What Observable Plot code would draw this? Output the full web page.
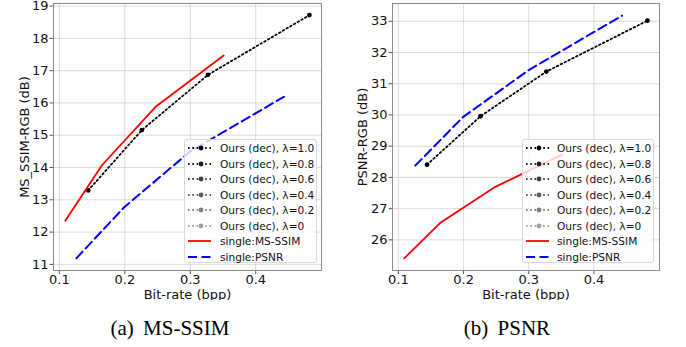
<!DOCTYPE html>
<html>
<head>
<meta charset="utf-8">
<script src="https://cdn.jsdelivr.net/npm/d3@7"></script>
<script src="https://cdn.jsdelivr.net/npm/@observablehq/plot@0.6"></script>
<style>
  body { margin: 0; background: #fff; }
  #wrap { position: relative; width: 686px; height: 347px; font-family: "DejaVu Sans", sans-serif; overflow: hidden; }
  .panel { position: absolute; top: 0; }
  .legend { position: absolute; background: rgba(255,255,255,0.8); border: 1px solid #d9d9d9; border-radius: 3px; box-sizing: border-box; font-size: 10.6px; color: #111; }
  .row { display: flex; align-items: center; height: 15.5px; white-space: nowrap; }
  .row svg { flex: none; }
  .caption { position: absolute; font-family: "Liberation Serif", "Times New Roman", serif; font-size: 21px; line-height: 21px; text-align: center; word-spacing: 4px; color: #000; }
</style>
</head>
<body>
<div id="wrap"></div>
<script>
// ---------- data ----------
const xTicks = [0.1, 0.2, 0.3, 0.4];
const msssimTicks = [11, 12, 13, 14, 15, 16, 17, 18, 19];
const psnrTicks = [26, 27, 28, 29, 30, 31, 32, 33];

const oursRate   = [0.144, 0.226, 0.327, 0.482];
const oursMsssim = [13.29, 15.16, 16.87, 18.72];
const oursPsnr   = [28.41, 29.96, 31.39, 33.02];

const singleMsssimRate   = [0.109, 0.165, 0.247, 0.351];
const singleMsssimMsssim = [12.35, 14.07, 15.88, 17.47];
const singleMsssimPsnr   = [25.41, 26.56, 27.68, 28.73];

const singlePsnrRate   = [0.126, 0.199, 0.300, 0.443];
const singlePsnrMsssim = [11.19, 12.77, 14.50, 16.19];
const singlePsnrPsnr   = [28.38, 29.93, 31.44, 33.18];

const lambdas = ["1.0", "0.8", "0.6", "0.4", "0.2", "0"];
const singleLabels = ["single:MS-SSIM", "single:PSNR"];
const captions = ["(a) MS-SSIM", "(b) PSNR"];
const yLabels = ["MS_SSIM-RGB (dB)", "PSNR-RGB (dB)"];
const xLabel = "Bit-rate (bpp)";

// ---------- styles ----------
const lambdaColors = ["#000000", "#1e1e1e", "#3e3e3e", "#5e5e5e", "#7e7e7e", "#a0a0a0"];
const RED = "#ff0000", BLUE = "#0000ff";
const DOTS = "1.6,2.7", DASH = "9,4.5";

const toPts = (xs, ys) => xs.map((x, i) => ({x, y: ys[i]}));

function panel({yDomain, yTicks, ours, red, blue, ml, mr, yLabel, yLabelOffset}) {
  return Plot.plot({
    width: 343, height: 300,
    marginLeft: ml, marginRight: mr, marginTop: 3, marginBottom: 30,
    x: {domain: [0.091, 0.5005]},
    y: {domain: yDomain},
    style: {fontFamily: "'DejaVu Sans', sans-serif", fontSize: "13px", color: "#111", background: "transparent"},
    marks: [
      Plot.gridX(xTicks, {stroke: "#b0b0b0", strokeOpacity: 0.45, strokeWidth: 1}),
      Plot.gridY(yTicks, {stroke: "#b0b0b0", strokeOpacity: 0.45, strokeWidth: 1}),
      Plot.axisX(xTicks, {tickFormat: d3.format(".1f"), tickSize: 4, tickPadding: 0.5, stroke: "#555",
        label: xLabel, labelAnchor: "center", labelOffset: 28, labelArrow: "none"}),
      Plot.axisY(yTicks, {tickFormat: d3.format("d"), tickSize: 3.5, tickPadding: 1.5, stroke: "#555",
        label: yLabel, labelAnchor: "center", labelOffset: yLabelOffset, labelArrow: "none"}),
      Plot.line(ours, {x: "x", y: "y", stroke: lambdaColors[0], strokeWidth: 1.8, strokeDasharray: DOTS}),
      Plot.dot(ours, {x: "x", y: "y", r: 2.4, fill: lambdaColors[0], stroke: "none"}),
      Plot.line(red, {x: "x", y: "y", stroke: RED, strokeWidth: 1.8}),
      Plot.line(blue, {x: "x", y: "y", stroke: BLUE, strokeWidth: 2, strokeDasharray: DASH}),
      Plot.frame({stroke: "#8a8a8a", strokeWidth: 1})
    ]
  });
}

const wrap = document.getElementById("wrap");

const left = panel({
  yDomain: [10.81, 19.08], yTicks: msssimTicks,
  ours: toPts(oursRate, oursMsssim),
  red: toPts(singleMsssimRate, singleMsssimMsssim),
  blue: toPts(singlePsnrRate, singlePsnrMsssim),
  ml: 53, mr: 22, yLabel: yLabels[0], yLabelOffset: 34
});
left.classList.add("panel"); left.style.left = "0px";
wrap.appendChild(left);

const right = panel({
  yDomain: [25.02, 33.57], yTicks: psnrTicks,
  ours: toPts(oursRate, oursPsnr),
  red: toPts(singleMsssimRate, singleMsssimPsnr),
  blue: toPts(singlePsnrRate, singlePsnrPsnr),
  ml: 49, mr: 27, yLabel: yLabels[1], yLabelOffset: 35
});
right.classList.add("panel"); right.style.left = "343px";
wrap.appendChild(right);

// ---------- legends ----------
function handle(kind, color) {
  const ns = "http://www.w3.org/2000/svg";
  const s = document.createElementNS(ns, "svg");
  s.setAttribute("width", 23); s.setAttribute("height", 10);
  const l = document.createElementNS(ns, "line");
  l.setAttribute("x1", 0); l.setAttribute("x2", 23); l.setAttribute("y1", 5); l.setAttribute("y2", 5);
  l.setAttribute("stroke", color); l.setAttribute("stroke-width", kind === "dash" ? 2 : 1.8);
  if (kind === "ours") l.setAttribute("stroke-dasharray", DOTS);
  if (kind === "dash") l.setAttribute("stroke-dasharray", DASH);
  s.appendChild(l);
  if (kind === "ours") {
    const c = document.createElementNS(ns, "circle");
    c.setAttribute("cx", 13); c.setAttribute("cy", 5); c.setAttribute("r", 2.4); c.setAttribute("fill", color);
    s.appendChild(c);
  }
  return s;
}
function legend(leftPx, widthPx, handleGap) {
  const d = document.createElement("div");
  d.className = "legend";
  Object.assign(d.style, {left: leftPx + "px", top: "139px", width: widthPx + "px", height: "124px", paddingLeft: "3px", paddingTop: "0.5px"});
  const items = lambdas.map((lam, i) => ({kind: "ours", color: lambdaColors[i], text: `Ours (dec), λ=${lam}`}))
    .concat([{kind: "solid", color: RED, text: singleLabels[0]}, {kind: "dash", color: BLUE, text: singleLabels[1]}]);
  for (const it of items) {
    const r = document.createElement("div"); r.className = "row";
    const h = handle(it.kind, it.color); h.style.marginRight = handleGap + "px";
    r.appendChild(h);
    const t = document.createElement("span"); t.textContent = it.text; r.appendChild(t);
    d.appendChild(r);
  }
  wrap.appendChild(d);
}
legend(184, 133, 9);
legend(522, 132, 8);

// ---------- captions ----------
[[170, captions[0]], [507, captions[1]]].forEach(([cx, txt]) => {
  const c = document.createElement("div");
  c.className = "caption";
  Object.assign(c.style, {left: (cx - 100) + "px", width: "200px", top: "318px"});
  c.textContent = txt;
  wrap.appendChild(c);
});
</script>
</body>
</html>
